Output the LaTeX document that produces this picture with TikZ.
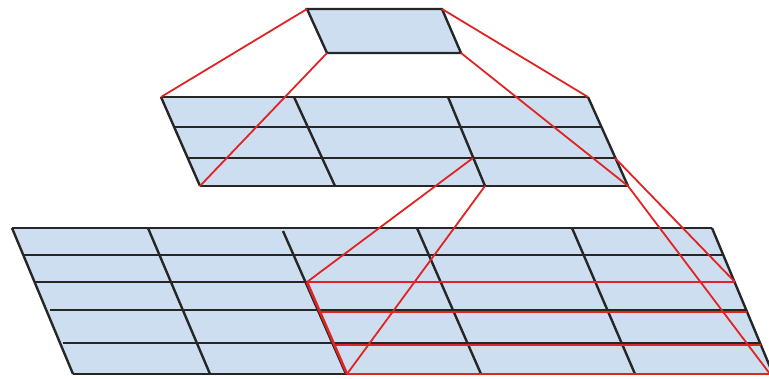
\documentclass[tikz,border=0pt]{standalone}
\definecolor{cellblue}{RGB}{205,222,240}
\definecolor{linkred}{RGB}{224,36,36}
\tikzset{
  gridline/.style={draw=black!85, line width=2.4pt},
  sheet/.style={fill=cellblue},
  redlink/.style={draw=linkred, line width=1.8pt},
}
\begin{document}
\begin{tikzpicture}[x=1pt,y=-1pt]
\useasboundingbox (0,0) rectangle (769,378);
% ---------- top feature ----------
\coordinate (T1) at (307,9);
\coordinate (T2) at (442,9);
\coordinate (T3) at (461,53);
\coordinate (T4) at (327,53);
\fill[sheet] (T1) -- (T2) -- (T3) -- (T4) -- cycle;
\draw[gridline, line join=miter] (T1) -- (T2) -- (T3) -- (T4) -- cycle;
% ---------- middle grid ----------
\coordinate (M1) at (161,97);
\coordinate (M2) at (588,97);
\coordinate (M3) at (628,186);
\coordinate (M4) at (200,186);
\fill[sheet] (M1) -- (M2) -- (M3) -- (M4) -- cycle;
\coordinate (ML1) at (174,127);  \coordinate (MR1) at (601,127);
\coordinate (ML2) at (188,158);  \coordinate (MR2) at (615,158);
\coordinate (MC1t) at (294,97);  \coordinate (MC1b) at (335,186);
\coordinate (MC2t) at (448,97);  \coordinate (MC2b) at (485,186);
\coordinate (MA) at (473,158);
\draw[gridline] (M1) -- (M2);
\draw[gridline] (ML1) -- (MR1);
\draw[gridline] (ML2) -- (MR2);
\draw[gridline] (M4) -- (M3);
\draw[gridline] (M1) -- (M4);
\draw[gridline] (M2) -- (M3);
\draw[gridline] (MC1t) -- (MC1b);
\draw[gridline] (MC2t) -- (MC2b);
% ---------- bottom grid ----------
\coordinate (B1) at (12,228);
\coordinate (B2) at (712,228);
\coordinate (B3) at (773,374);
\coordinate (B4) at (73,374);
\fill[sheet] (B1) -- (B2) -- (B3) -- (B4) -- cycle;
\coordinate (BL1) at (23,255);  \coordinate (BR1) at (723,255);
\coordinate (BL2) at (35,282);  \coordinate (BR2) at (735,282);
\coordinate (BL3) at (50,310);  \coordinate (BR3) at (746,310);
\coordinate (BL4) at (63,343);  \coordinate (BR4) at (760,343);
\coordinate (BC1t) at (148,228); \coordinate (BC1b) at (210,374);
\coordinate (BC2t) at (283,231); \coordinate (BC2b) at (346,374);
\coordinate (BC3t) at (417,228); \coordinate (BC3b) at (481,374);
\coordinate (BC4t) at (572,228); \coordinate (BC4b) at (635,374);
\draw[gridline] (B1) -- (B2);
\draw[gridline] (BL1) -- (BR1);
\draw[gridline] (BL2) -- (BR2);
\draw[gridline] (BL3) -- (BR3);
\draw[gridline] (BL4) -- (BR4);
\draw[gridline] (B4) -- (B3);
\draw[gridline] (B1) -- (B4);
\draw[gridline] (B2) -- (B3);
\draw[gridline] (BC1t) -- (BC1b);
\draw[gridline] (BC2t) -- (BC2b);
\draw[gridline] (BC3t) -- (BC3b);
\draw[gridline] (BC4t) -- (BC4b);
% ---------- red receptive field in bottom grid ----------
\coordinate (RA) at (307,282);
\coordinate (RB) at (735,282);
\coordinate (RL3) at (319,312); \coordinate (RR3) at (747,312);
\coordinate (RL4) at (333,345); \coordinate (RR4) at (761,345);
\coordinate (RD) at (347,374);
\coordinate (RC) at (773,374);
\draw[redlink] (RA) -- (RB);
\draw[redlink] (RL3) -- (RR3);
\draw[redlink] (RL4) -- (RR4);
\draw[redlink] (RD) -- (RC);
\draw[redlink, line width=2.6pt] (RA) -- (RD);
% ---------- red projection lines ----------
\draw[redlink] (T1) -- (M1);
\draw[redlink] (T4) -- (M4);
\draw[redlink] (T2) -- (M2);
\draw[redlink] (T3) -- (M3);
\draw[redlink] (MA) -- (RA);
\draw[redlink] (MC2b) -- (RD);
\draw[redlink] (MR2) -- (RB);
\draw[redlink] (M3) -- (770,374);
\end{tikzpicture}
\end{document}
